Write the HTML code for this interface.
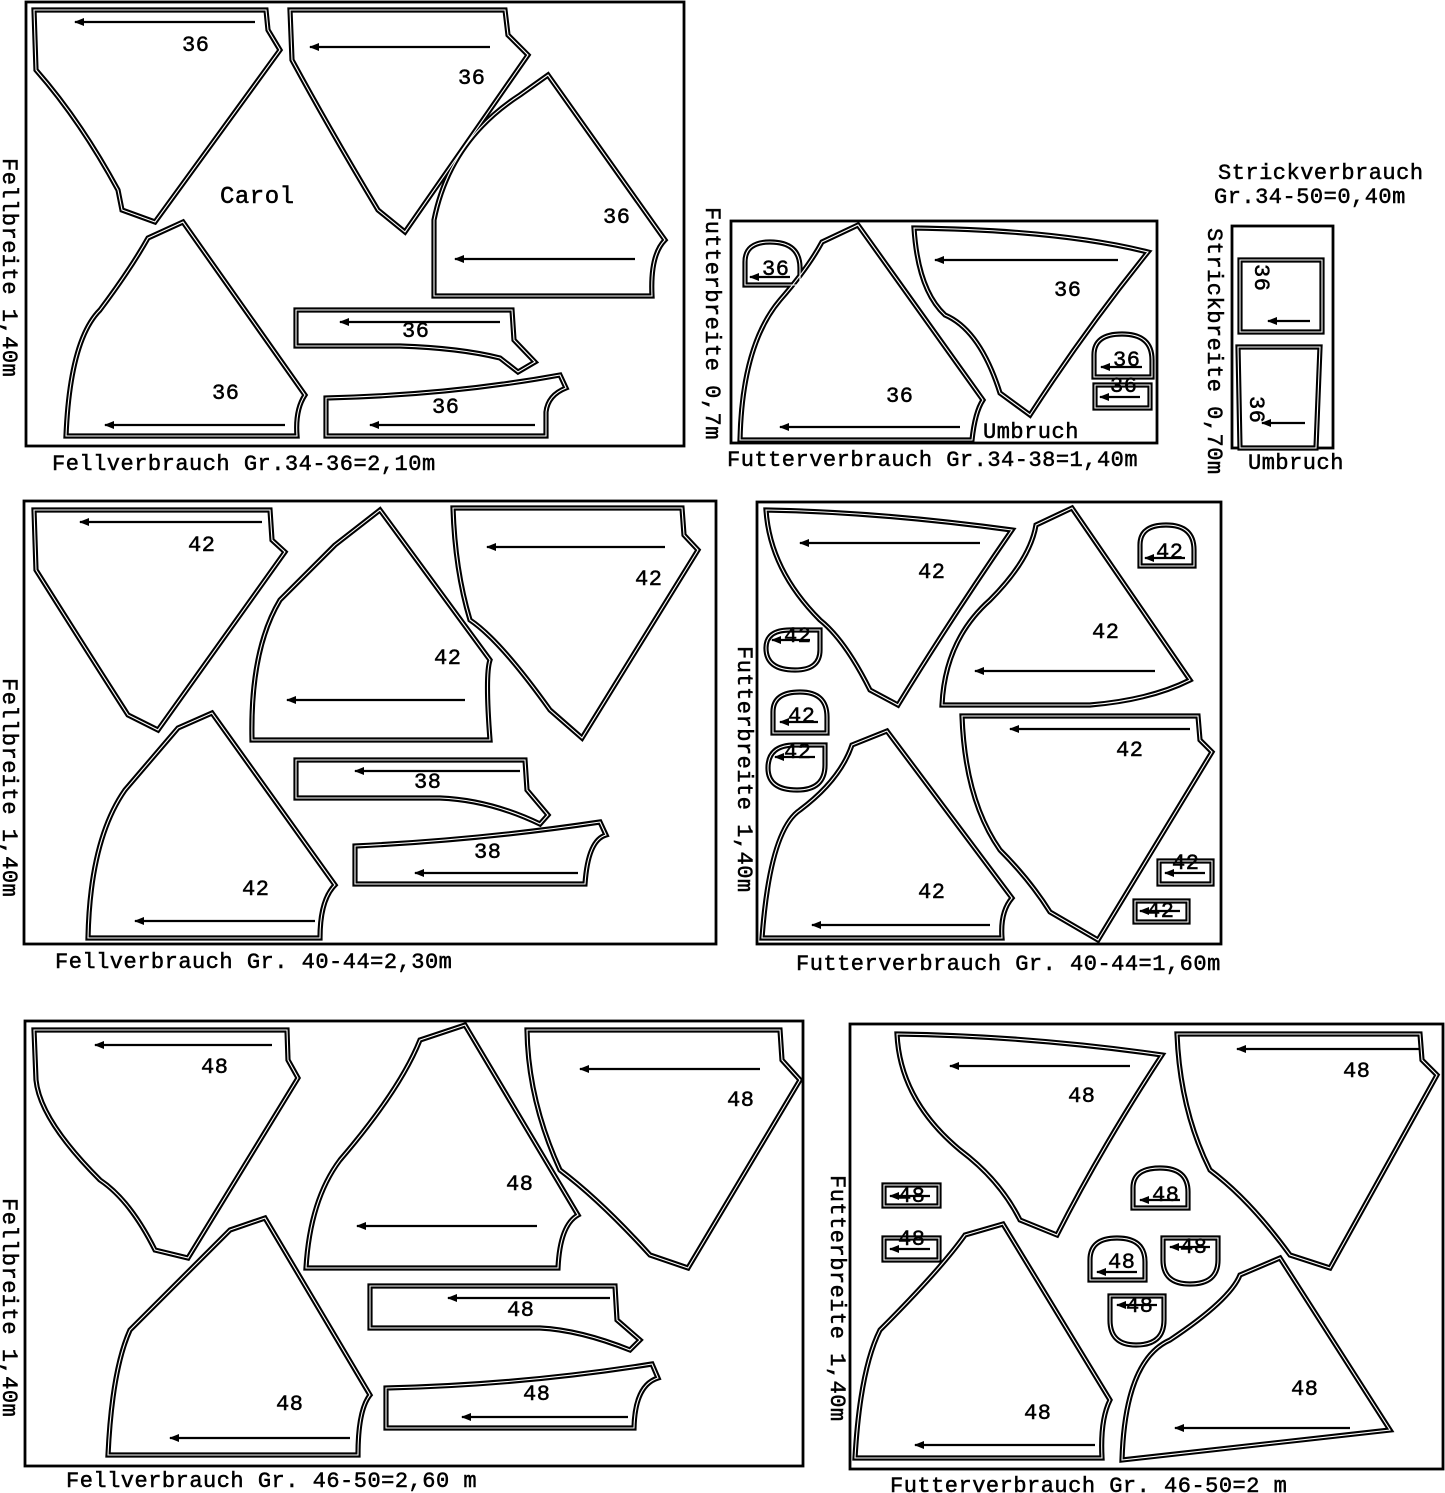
<!DOCTYPE html>
<html><head><meta charset="utf-8"><style>
html,body{margin:0;padding:0;background:#fff}
svg{display:block}
text{font-family:"Liberation Mono","DejaVu Sans Mono",monospace;font-size:22px;letter-spacing:0.5px;fill:#000;stroke:#000;stroke-width:0.5}
</style></head><body>
<svg width="1445" height="1493" viewBox="0 0 1445 1493" xmlns="http://www.w3.org/2000/svg">
<defs>
<marker id="ah" markerWidth="10" markerHeight="8" refX="1" refY="4" orient="auto" markerUnits="userSpaceOnUse">
<path d="M0,4 L10,0 L10,8 Z" fill="#000"/></marker>
<g id="pc">
<path d="M34,10 L266,10 L268,30 L280,50 L155,222 L122,210 L118,190 Q80,120 36,70 Z"/>
<path d="M290,10 L505,10 L508,35 L528,55 L405,232 L378,210 Q330,130 292,60 Z"/>
<path d="M548,75 L665,240 Q650,255 652,296 L434,296 L434,220 Q450,140 520,95 Z"/>
<path d="M148,238 L183,222 L305,395 Q295,410 297,436 L66,436 Q70,340 100,310 Q130,270 148,238 Z"/>
<path d="M296,310 L512,310 L514,340 L535,362 L518,372 L500,358 Q460,348 400,346 L296,346 Z"/>
<path d="M326,398 Q450,395 560,375 L566,388 Q548,395 546,412 L546,436 L326,436 Z"/>
<path d="M745,285 L745,262 Q745,242 770,242 Q800,242 800,268 L800,285 Z"/>
<path d="M822,242 L858,225 L983,400 Q975,412 972,440 L740,440 Q742,345 780,300 Q808,268 822,242 Z"/>
<path d="M914,228 Q1060,230 1148,252 Q1085,330 1030,415 L1000,393 Q980,330 945,315 Q918,290 914,228 Z"/>
<path d="M1094,377 L1094,355 Q1094,334 1122,334 Q1152,334 1152,360 L1152,377 Z"/>
<path d="M1095,385 L1150,385 L1150,408 L1095,408 Z"/>
<path d="M1240,260 L1322,260 L1322,332 L1240,332 Z"/>
<path d="M1238,347 L1320,347 L1316,448 L1240,448 Z"/>
<path d="M34,510 L270,510 L272,540 L285,552 L158,730 L128,715 Q80,640 36,570 Z"/>
<path d="M335,545 L380,510 L490,660 Q485,675 490,740 L252,740 Q250,650 280,600 Q310,570 335,545 Z"/>
<path d="M453,508 L682,508 L684,535 L698,550 L582,738 L550,710 Q500,640 470,620 Q455,570 453,508 Z"/>
<path d="M178,728 L212,713 L335,885 Q320,900 320,938 L88,938 Q90,840 125,790 Q155,755 178,728 Z"/>
<path d="M296,760 L525,760 L527,790 L548,815 L540,824 Q490,800 440,798 L296,798 Z"/>
<path d="M355,846 Q480,840 600,822 L606,835 Q588,840 585,884 L355,884 Z"/>
<path d="M766,510 Q880,512 1012,530 Q950,620 898,705 L870,690 Q845,640 820,620 Q770,570 766,510 Z"/>
<path d="M1036,525 L1072,508 L1190,680 Q1150,700 1090,705 L942,705 Q945,640 990,600 Q1030,560 1036,525 Z"/>
<path d="M962,716 L1198,716 L1200,740 L1212,752 L1098,940 L1050,912 Q1030,880 1000,850 Q965,800 962,716 Z"/>
<path d="M852,745 L887,731 L1012,898 Q1000,912 1002,938 L762,938 Q770,830 800,810 Q840,780 852,745 Z"/>
<path d="M1140,566 L1140,545 Q1140,525 1166,525 Q1194,525 1194,550 L1194,566 Z"/>
<path d="M820,630 L820,650 Q820,670 795,670 Q766,670 766,648 Q766,630 790,630 Z"/>
<path d="M773,733 L773,712 Q773,692 800,692 Q827,692 827,717 L827,733 Z"/>
<path d="M825,745 L825,765 Q825,790 797,790 Q768,790 768,768 Q768,745 795,745 Z"/>
<path d="M1159,861 L1212,861 L1212,884 L1159,884 Z"/>
<path d="M1135,901 L1188,901 L1188,922 L1135,922 Z"/>
<path d="M34,1030 L287,1030 L288,1060 L298,1078 L188,1258 L155,1250 Q130,1200 100,1180 Q40,1120 36,1080 Z"/>
<path d="M420,1040 L465,1025 L578,1215 Q560,1225 558,1268 L306,1268 Q310,1200 340,1160 Q400,1090 420,1040 Z"/>
<path d="M527,1030 L780,1030 L782,1060 L800,1080 L688,1268 L650,1255 Q600,1200 560,1170 Q528,1100 527,1030 Z"/>
<path d="M230,1230 L265,1218 L370,1395 Q358,1410 358,1455 L108,1455 Q112,1370 130,1330 Q190,1270 230,1230 Z"/>
<path d="M370,1286 L615,1286 L617,1320 L640,1340 L630,1350 Q580,1330 540,1328 L370,1328 Z"/>
<path d="M386,1388 Q520,1385 652,1364 L658,1378 Q635,1385 634,1428 L386,1428 Z"/>
<path d="M897,1034 Q1030,1036 1162,1055 Q1100,1150 1057,1235 L1020,1220 Q1000,1180 960,1150 Q900,1100 897,1034 Z"/>
<path d="M1177,1034 L1420,1034 L1422,1060 L1437,1075 L1330,1268 L1290,1255 Q1250,1200 1210,1170 Q1180,1110 1177,1034 Z"/>
<path d="M965,1235 L1003,1224 L1110,1400 Q1100,1420 1102,1458 L855,1458 Q860,1370 880,1330 Q940,1270 965,1235 Z"/>
<path d="M1240,1275 L1280,1258 L1390,1430 L1122,1460 Q1125,1360 1170,1340 Q1230,1300 1240,1275 Z"/>
<path d="M884,1185 L939,1185 L939,1206 L884,1206 Z"/>
<path d="M884,1238 L939,1238 L939,1260 L884,1260 Z"/>
<path d="M1133,1208 L1133,1188 Q1133,1168 1160,1168 Q1188,1168 1188,1192 L1188,1208 Z"/>
<path d="M1090,1280 L1090,1260 Q1090,1238 1117,1238 Q1145,1238 1145,1262 L1145,1280 Z"/>
<path d="M1218,1238 L1218,1260 Q1218,1284 1190,1284 Q1163,1284 1163,1260 L1163,1238 Z"/>
<path d="M1164,1296 L1164,1320 Q1164,1345 1136,1345 Q1110,1345 1110,1320 L1110,1296 Z"/>
</g>
</defs>

<g fill="none" stroke="#000" stroke-width="2.8">
<rect x="26" y="2" width="658" height="444"/>
<rect x="731" y="221" width="426" height="222"/>
<rect x="1232" y="226" width="101" height="222"/>
<rect x="24" y="501" width="692" height="443"/>
<rect x="757" y="502" width="464" height="442"/>
<rect x="25" y="1021" width="778" height="445"/>
<rect x="850" y="1024" width="593" height="445"/>
</g>
<g fill="#fff" stroke="#000" stroke-width="5.2" stroke-linejoin="miter"><use href="#pc"/></g>
<g fill="none" stroke="#fff" stroke-width="1.1"><use href="#pc"/></g>

<g stroke="#000" stroke-width="2.2" marker-start="url(#ah)">
<line x1="75" y1="22" x2="255" y2="22"/>
<line x1="310" y1="47" x2="490" y2="47"/>
<line x1="455" y1="259" x2="635" y2="259"/>
<line x1="105" y1="425" x2="285" y2="425"/>
<line x1="340" y1="322" x2="500" y2="322"/>
<line x1="370" y1="425" x2="535" y2="425"/>
<line x1="750" y1="277" x2="790" y2="277"/>
<line x1="780" y1="427" x2="960" y2="427"/>
<line x1="935" y1="260" x2="1118" y2="260"/>
<line x1="1101" y1="367" x2="1142" y2="367"/>
<line x1="1100" y1="397" x2="1140" y2="397"/>
<line x1="1268" y1="321" x2="1310" y2="321"/>
<line x1="1262" y1="423" x2="1305" y2="423"/>
<line x1="80" y1="522" x2="262" y2="522"/>
<line x1="287" y1="700" x2="465" y2="700"/>
<line x1="487" y1="547" x2="665" y2="547"/>
<line x1="135" y1="921" x2="315" y2="921"/>
<line x1="355" y1="771" x2="520" y2="771"/>
<line x1="415" y1="873" x2="578" y2="873"/>
<line x1="800" y1="543" x2="980" y2="543"/>
<line x1="975" y1="671" x2="1155" y2="671"/>
<line x1="1010" y1="729" x2="1190" y2="729"/>
<line x1="812" y1="925" x2="990" y2="925"/>
<line x1="1145" y1="558" x2="1185" y2="558"/>
<line x1="772" y1="640" x2="810" y2="640"/>
<line x1="780" y1="722" x2="818" y2="722"/>
<line x1="775" y1="757" x2="815" y2="757"/>
<line x1="1165" y1="873" x2="1205" y2="873"/>
<line x1="1140" y1="911" x2="1180" y2="911"/>
<line x1="95" y1="1045" x2="272" y2="1045"/>
<line x1="357" y1="1226" x2="537" y2="1226"/>
<line x1="580" y1="1069" x2="760" y2="1069"/>
<line x1="170" y1="1438" x2="350" y2="1438"/>
<line x1="448" y1="1298" x2="610" y2="1298"/>
<line x1="462" y1="1417" x2="628" y2="1417"/>
<line x1="950" y1="1066" x2="1130" y2="1066"/>
<line x1="1237" y1="1049" x2="1420" y2="1049"/>
<line x1="915" y1="1445" x2="1095" y2="1445"/>
<line x1="1175" y1="1428" x2="1350" y2="1428"/>
<line x1="890" y1="1196" x2="930" y2="1196"/>
<line x1="890" y1="1249" x2="930" y2="1249"/>
<line x1="1140" y1="1200" x2="1180" y2="1200"/>
<line x1="1097" y1="1272" x2="1137" y2="1272"/>
<line x1="1170" y1="1247" x2="1210" y2="1247"/>
<line x1="1117" y1="1305" x2="1157" y2="1305"/>
</g>

<g>
<text x="182" y="51">36</text><text x="458" y="84">36</text><text x="603" y="223">36</text>
<text x="212" y="399">36</text><text x="402" y="337">36</text><text x="432" y="413">36</text>
<text x="220" y="203" style="font-size:24px">Carol</text>
<text x="762" y="275">36</text><text x="886" y="402">36</text><text x="1054" y="296">36</text>
<text x="1113" y="366">36</text><text x="1110" y="392">36</text>
<text x="983" y="438">Umbruch</text>
<text x="52" y="470">Fellverbrauch Gr.34-36=2,10m</text>
<text x="727" y="466">Futterverbrauch Gr.34-38=1,40m</text>
<text x="1218" y="179">Strickverbrauch</text>
<text x="1214" y="203">Gr.34-50=0,40m</text>
<text x="1248" y="469">Umbruch</text>
<text transform="translate(1255,264) rotate(90)">36</text>
<text transform="translate(1250,396) rotate(90)">36</text>
<text transform="translate(3,158) rotate(90)">Fellbreite 1,40m</text>
<text transform="translate(706,207) rotate(90)">Futterbreite 0,7m</text>
<text transform="translate(1208,228) rotate(90)">Strickbreite 0,70m</text>

<text x="188" y="551">42</text><text x="434" y="664">42</text><text x="635" y="585">42</text>
<text x="242" y="895">42</text><text x="414" y="788">38</text><text x="474" y="858">38</text>
<text x="55" y="968">Fellverbrauch Gr.  40-44=2,30m</text>
<text transform="translate(3,678) rotate(90)">Fellbreite 1,40m</text>
<text x="918" y="578">42</text><text x="1092" y="638">42</text><text x="1116" y="756">42</text>
<text x="918" y="898">42</text><text x="1156" y="558">42</text><text x="784" y="642">42</text>
<text x="788" y="722">42</text><text x="784" y="758">42</text><text x="1172" y="869">42</text>
<text x="1147" y="917">42</text>
<text x="796" y="970">Futterverbrauch Gr.  40-44=1,60m</text>
<text transform="translate(738,646) rotate(90)">Futterbreite 1,40m</text>

<text x="201" y="1073">48</text><text x="506" y="1190">48</text><text x="727" y="1106">48</text>
<text x="276" y="1410">48</text><text x="507" y="1316">48</text><text x="523" y="1400">48</text>
<text x="66" y="1487">Fellverbrauch Gr.  46-50=2,60 m</text>
<text transform="translate(3,1198) rotate(90)">Fellbreite 1,40m</text>
<text x="1068" y="1102">48</text><text x="1343" y="1077">48</text><text x="1024" y="1419">48</text>
<text x="1291" y="1395">48</text><text x="898" y="1202">48</text><text x="898" y="1245">48</text>
<text x="1152" y="1201">48</text><text x="1108" y="1268">48</text><text x="1180" y="1253">48</text>
<text x="1126" y="1312">48</text>
<text x="890" y="1492">Futterverbrauch Gr.  46-50=2 m</text>
<text transform="translate(831,1175) rotate(90)">Futterbreite 1,40m</text>
</g>
</svg>
</body></html>
